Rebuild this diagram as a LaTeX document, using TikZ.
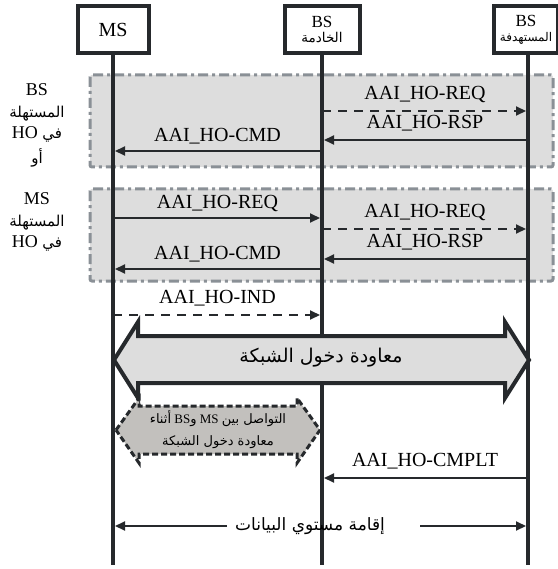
\documentclass[tikz,border=0pt]{standalone}
\usepackage{fontspec}
\setmainfont{Liberation Serif}
\newfontfamily\arabicfont[Script=Arabic]{DejaVu Sans}
\TeXXeTstate=1
\usetikzlibrary{arrows.meta}
\definecolor{ink}{HTML}{26292C}
\definecolor{rgray}{HTML}{8A9096}
\definecolor{rfill}{HTML}{DDDDDD}
\definecolor{hfill}{HTML}{C2C0BD}
\newcommand{\artxt}[1]{{\arabicfont\beginR #1\endR}}
\begin{document}
\begin{tikzpicture}[x=1pt,y=-1pt,
 hdr/.style={draw=ink,line width=4pt,fill=white,inner sep=0pt,align=center,minimum height=47pt},
 life/.style={draw=ink,line width=4pt},
 msg/.style={draw=ink,line width=2pt,-{Triangle[length=10pt,width=9pt]},shorten >=2pt},
 dmsg/.style={msg,dash pattern=on 9pt off 7pt},
 lbl/.style={font=\fontsize{20}{22}\selectfont,text height=13.5pt,text depth=3pt,inner sep=0pt,yshift=17pt},
 region/.style={draw=rgray,fill=rfill,line width=3pt,dash pattern=on 10pt off 4pt on 3pt off 4pt,rounded corners=2pt},
 side/.style={align=center,font=\fontsize{18}{21.5}\selectfont,inner sep=0pt},
]
\useasboundingbox (0,0) rectangle (557,569);
% shaded regions
\path[region] (90,75) rectangle (553,167);
\path[region] (90,189) rectangle (553,281);
% lifeline coordinates
\coordinate (M) at (113,0);
\coordinate (S) at (322,0);
\coordinate (T) at (528,0);
\coordinate (Mend) at (113,565);
\coordinate (Send) at (322,565);
\coordinate (Ttop) at (528,40);
\coordinate (Tend) at (528,565);
% header boxes
\node[hdr,minimum width=71pt,font=\fontsize{20}{20}\selectfont] (ms) at (113,29.5) {MS};
\node[hdr,minimum width=75pt] (sv) at (322,29.5) {\fontsize{17}{17}\selectfont BS\\[3pt]{\fontsize{13.5}{13}\selectfont\artxt{الخادمة}}};
\node[hdr,minimum width=64pt] (tg) at (526,29.5) {\fontsize{17}{17}\selectfont BS\\[3pt]{\fontsize{12}{12}\selectfont\artxt{المستهدفة}}};
\draw[life] (ms.south) -- (Mend);
\draw[life] (sv.south) -- (Send);
\draw[life] (tg.south -| Ttop) -- (Tend);
% region 1
\draw[dmsg] (S |- 0,111) -- node[lbl]{AAI\_HO-REQ} (T |- 0,111);
\draw[msg] (T |- 0,140) -- node[lbl]{AAI\_HO-RSP} (S |- 0,140);
\draw[msg] (S |- 0,151) -- node[lbl,yshift=-2pt]{AAI\_HO-CMD} (M |- 0,151);
% region 2
\draw[msg] (M |- 0,218) -- node[lbl,yshift=-2pt]{AAI\_HO-REQ} (S |- 0,218);
\draw[dmsg] (S |- 0,229) -- node[lbl]{AAI\_HO-REQ} (T |- 0,229);
\draw[msg] (T |- 0,259) -- node[lbl]{AAI\_HO-RSP} (S |- 0,259);
\draw[msg] (S |- 0,269) -- node[lbl,yshift=-2pt]{AAI\_HO-CMD} (M |- 0,269);
\draw[dmsg] (M |- 0,315) -- node[lbl]{AAI\_HO-IND} (S |- 0,315);
% side labels
\node[side] (g1) at (37,113) {BS\\{\fontsize{15}{21.5}\selectfont\artxt{المستهلة}}\\\beginR{\fontsize{15}{21.5}\selectfont\arabicfont في} \beginL HO\endL\endR};
\node[side] (or) at (37,158) {\fontsize{15}{21.5}\selectfont\artxt{أو}};
\node[side] (g2) at (37,222) {MS\\{\fontsize{15}{21.5}\selectfont\artxt{المستهلة}}\\\beginR{\fontsize{15}{21.5}\selectfont\arabicfont في} \beginL HO\endL\endR};
% network re-entry big double arrow
\draw[draw=ink,line width=4pt,fill=rfill,miter limit=10]
  (114,360) -- (138,322) -- (138,336) -- (505,336) -- (505,322) -- (529,360)
  -- (505,398) -- (505,383) -- (138,383) -- (138,398) -- cycle;
\node[font=\fontsize{19}{20}\selectfont] (reentry) at (321,358) {\artxt{معاودة دخول الشبكة}};
% communication hexagon
\draw[draw=ink,line width=3pt,fill=hfill,dash pattern=on 6pt off 3pt]
  (116,430) -- (139,398) -- (139,406) -- (297,406) -- (297,398) -- (320,430)
  -- (297,463) -- (297,454) -- (139,454) -- (139,463) -- cycle;
\node[align=center,font=\fontsize{13}{22}\selectfont,inner sep=0pt] (comm) at (218,430)
  {\beginR{\arabicfont التواصل بين} \beginL MS\endL{} {\arabicfont و}\beginL BS\endL{} {\arabicfont أثناء}\endR\\\artxt{معاودة دخول الشبكة}};
% complete
\draw[msg] (T |- 0,478) -- node[lbl]{AAI\_HO-CMPLT} (S |- 0,478);
% data plane
\node[font=\fontsize{17}{20}\selectfont,inner sep=0pt] (dp) at (310,526) {\artxt{إقامة مستوي البيانات}};
\coordinate (dpl) at (227,526);
\coordinate (dpr) at (420,526);
\draw[msg] (dpl) -- (M |- dpl);
\draw[msg] (dpr) -- (T |- dpr);
\end{tikzpicture}
\end{document}
